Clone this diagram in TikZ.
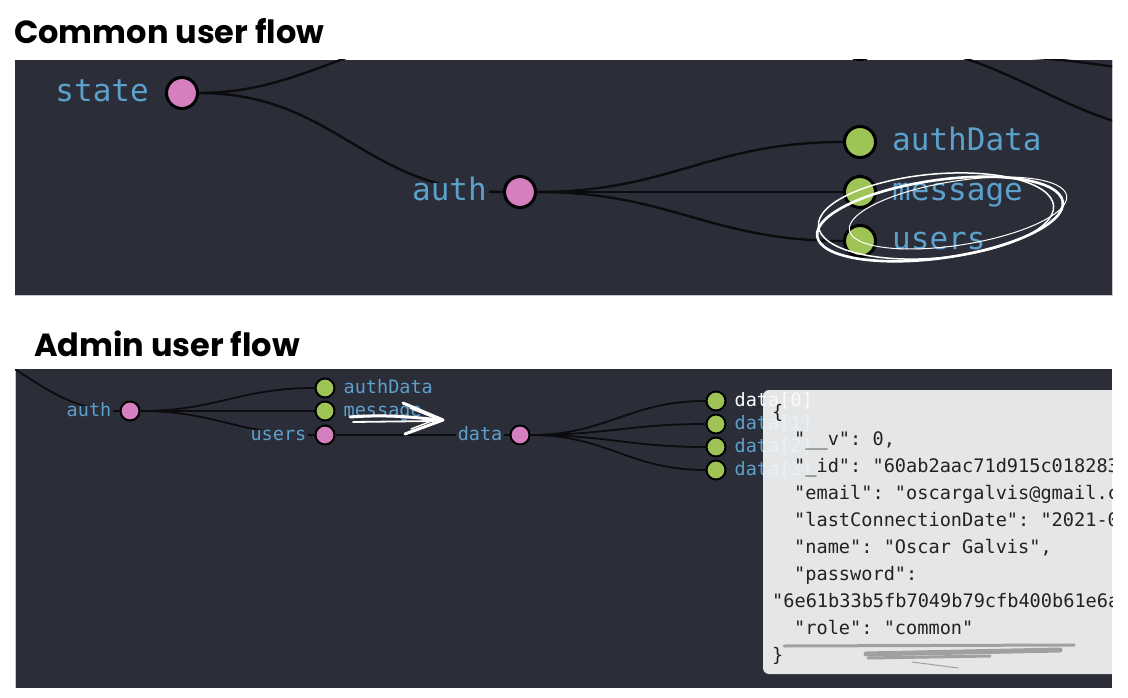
\documentclass[tikz,border=0pt]{standalone}
\usepackage{fontspec}
\setmainfont{DejaVu Sans}
\setmonofont{DejaVu Sans Mono}
\newfontfamily\titlefont{Poppins}
\usetikzlibrary{positioning,backgrounds}

\definecolor{panelbg}{RGB}{43,46,57}
\definecolor{panelrim}{RGB}{200,200,204}
\definecolor{objpink}{RGB}{213,126,192}
\definecolor{leafgreen}{RGB}{158,196,86}
\definecolor{keyblue}{RGB}{92,160,204}
\definecolor{edgeblack}{RGB}{12,12,14}
\definecolor{tipbg}{RGB}{250,250,250}
\definecolor{tipink}{RGB}{34,34,34}
\definecolor{smudgegray}{RGB}{160,160,160}

\tikzset{
  title/.style={anchor=base west, inner sep=0pt, font=\titlefont\bfseries\fontsize{32}{38}\selectfont},
  tree/.style={draw=edgeblack, line width=2.4pt},
  stree/.style={draw=edgeblack, line width=1.8pt},
  obj/.style={circle, draw=black, line width=3pt, fill=objpink, minimum size=31pt, inner sep=0pt},
  leaf/.style={obj, fill=leafgreen},
  sobj/.style={circle, draw=black, line width=2pt, fill=objpink, minimum size=19pt, inner sep=0pt},
  sleaf/.style={sobj, fill=leafgreen},
  lbl/.style={text=keyblue, inner sep=0pt, text height=17pt, text depth=0pt,
    font=\ttfamily\fontsize{31}{31}\selectfont},
  slbl/.style={text=keyblue, inner sep=0pt, text height=10pt, text depth=0pt,
    font=\ttfamily\fontsize{18.5}{18.5}\selectfont},
  cover/.style={fill=panelbg, inner xsep=2pt},
  tip/.style={anchor=base west, inner sep=0pt, text=tipink,
    font=\ttfamily\fontsize{18.6}{18.6}\selectfont},
  scribble/.style={draw=white, line width=2.6pt},
  smudge/.style={draw=smudgegray, line width=5pt},
}

\begin{document}
\begin{tikzpicture}[x=1pt, y=-1pt, line cap=round, line join=round]
  \useasboundingbox (0,0) rectangle (1128,698);

  % titles
  \node[title] (commontitle) at (14,44) {Common user flow};
  \node[title] (admintitle) at (34,356) {Admin user flow};

  % common user flow
  \node[obj]  (state) at (182,93) {};
  \node[obj]  (auth) at (520,192) {};
  \node[leaf] (authData) at (860,142) {};
  \node[leaf] (message) at (860,192) {};
  \node[leaf] (users) at (860,241) {};
  \node[lbl, cover, left=14pt of state] (state-l) {state};
  \node[lbl, cover, left=14pt of auth] (auth-l) {auth};
  \foreach \n in {authData,message,users}
    \node[lbl, right=15pt of \n] (\n-l) {\n};

  % admin user flow
  \node[sobj]  (a-auth) at (130,411) {};
  \node[sleaf] (a-authData) at (325,388) {};
  \node[sleaf] (a-message) at (325,411) {};
  \node[sobj]  (a-users) at (325,435) {};
  \node[sobj]  (a-data) at (520,435) {};
  \foreach \i/\y in {0/401,1/424,2/447,3/470}
    \node[sleaf] (a-d\i) at (716,\y) {};
  \node[slbl, cover, left=6pt of a-auth] (a-auth-l) {auth};
  \node[slbl, right=8pt of a-authData] (a-authData-l) {authData};
  \node[slbl, right=8pt of a-message] (a-message-l) {message};
  \node[slbl, cover, left=6pt of a-users] (a-users-l) {users};
  \node[slbl, cover, left=5pt of a-data] (a-data-l) {data};
  \node[slbl, right=8pt of a-d0, text=white] (a-d0-l) {data[0]};
  \foreach \i in {1,2,3}
    \node[slbl, right=8pt of a-d\i] (a-d\i-l) {data[\i]};

  \begin{scope}[on background layer]
    \fill[panelbg] (15,60) rectangle (1112,295);
    \fill[panelbg] (15,369) rectangle (1112,688);
    \draw[panelrim, line width=1pt] (15,295) -- (1112,295) -- (1112,60);
    \draw[panelrim, line width=1pt] (15,369) -- (15,688);
    \begin{scope}
      \clip (15,60) rectangle (1112,295);
      \node[leaf] (hidden) at (860,44) {};
      \coordinate (state-up) at (460,35);
      \coordinate (far-a) at (1200,135);
      \coordinate (far-b) at (1000,57);
      \coordinate (far-c) at (1250,80);
      \draw[tree] (state) to[out=0, in=180] (state-up);
      \draw[tree] (hidden) to[out=0, in=180] (far-a);
      \draw[tree] (far-b) to[out=0, in=180] (far-c);
      \draw[tree] (state) to[out=0, in=180, looseness=1.1] (auth);
      \foreach \n in {authData,message,users}
        \draw[tree] (auth) to[out=0, in=180, looseness=1.1] (\n);
    \end{scope}
    \begin{scope}
      \clip (15,369) rectangle (1112,688);
      \coordinate (a-state) at (-70,340);
      \draw[stree] (a-state) to[out=0, in=180] (a-auth);
      \foreach \n in {a-authData,a-message,a-users}
        \draw[stree] (a-auth) to[out=0, in=180, looseness=1.1] (\n);
      \draw[stree] (a-users) -- (a-data);
      \foreach \i in {0,...,3}
        \draw[stree] (a-data) to[out=0, in=180, looseness=1.1] (a-d\i);
    \end{scope}
  \end{scope}

  % white marks
  \draw[scribble] (940,219) ellipse[x radius=124, y radius=39, rotate=8];
  \draw[scribble, line width=1.5pt] (936,216) ellipse[x radius=118, y radius=42, rotate=5];
  \draw[scribble, line width=1pt] (958,213) ellipse[x radius=110, y radius=32, rotate=9];
  \draw[scribble, line width=3pt] (350,417) .. controls (390,414) and (420,418) .. (440,420);
  \draw[scribble, line width=1.8pt] (353,422) -- (434,421);
  \draw[scribble, line width=3pt] (403,403) -- (443,420) -- (405,434);
  \draw[scribble, line width=1.4pt] (410,408) -- (437,419) -- (411,429);

  % tooltip
  \begin{scope}
    \clip (15,369) rectangle (1112,688);
    \fill[tipbg, opacity=0.9, rounded corners=6pt] (763,390) rectangle (1150,674);
    \node[tip] (t0) at (772,418) {\{};
    \node[tip] (t1) at (794,445) {"\_\_v": 0,};
    \node[tip] (t2) at (794,472) {"\_id": "60ab2aac71d915c018283};
    \node[tip] (t3) at (794,499) {"email": "oscargalvis@gmail.c};
    \node[tip] (t4) at (794,526) {"lastConnectionDate": "2021-0};
    \node[tip] (t5) at (794,553) {"name": "Oscar Galvis",};
    \node[tip] (t6) at (794,580) {"password":};
    \node[tip] (t7) at (772,607) {"6e61b33b5fb7049b79cfb400b61e6a};
    \node[tip] (t8) at (794,634) {"role": "common"};
    \node[tip] (t9) at (772,661) {\}};
    \draw[smudge, line width=3pt] (784,646) -- (1074,645);
    \draw[smudge] (866,654) -- (1060,650);
    \draw[smudge, line width=3pt] (868,658) -- (990,656);
    \draw[smudge, line width=1pt] (912,662) -- (958,668);
  \end{scope}
\end{tikzpicture}
\end{document}
